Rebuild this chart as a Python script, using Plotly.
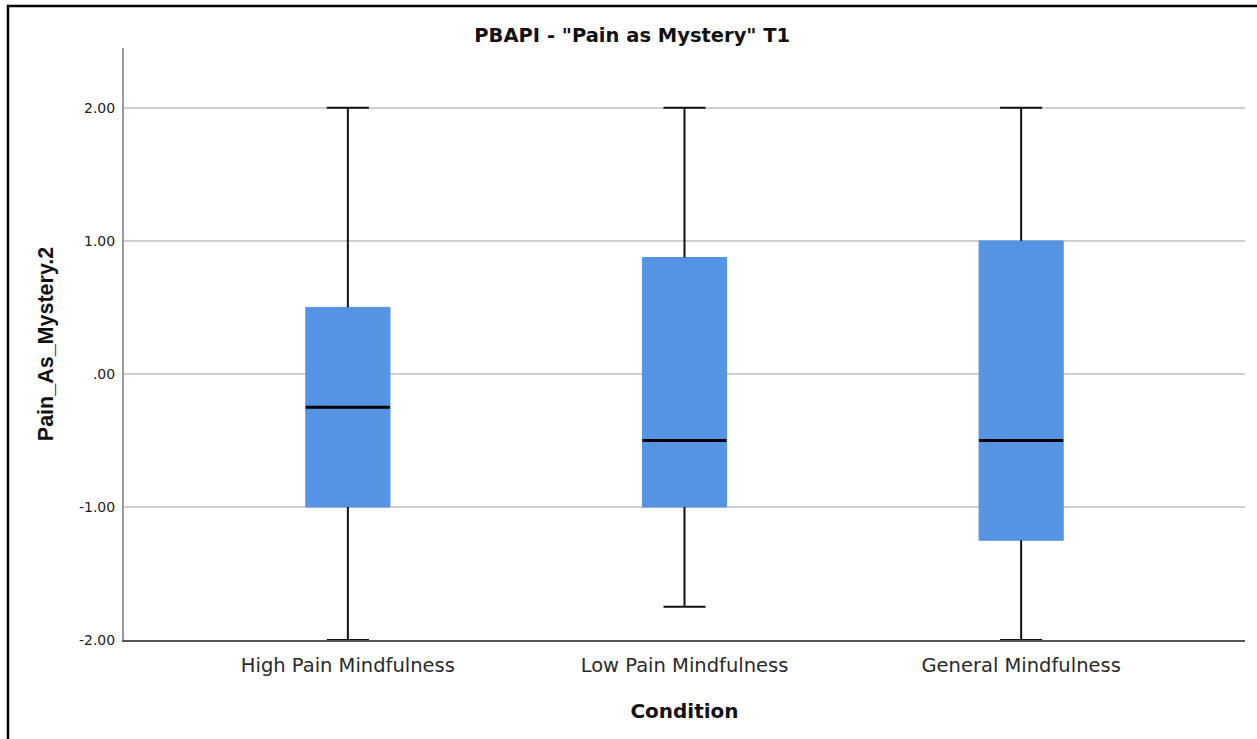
import plotly.graph_objects as go

# Five-number summaries per condition
conditions = ["High Pain Mindfulness", "Low Pain Mindfulness", "General Mindfulness"]
minimum = [-2.0, -1.75, -2.0]
q1 = [-1.0, -1.0, -1.25]
median = [-0.25, -0.5, -0.5]
q3 = [0.5, 0.875, 1.0]
maximum = [2.0, 2.0, 2.0]

ytick_vals = [-2, -1, 0, 1, 2]
ytick_text = ["-2.00", "-1.00", ".00", "1.00", "2.00"]

BOX_FILL = "#5594e3"
BOX_W = 0.25
CAP_W = 0.125
WIDE = "DejaVu Sans, Verdana, sans-serif"
NARROW = "Liberation Sans, Arial, sans-serif"

fig = go.Figure()

xs = list(range(len(conditions)))

# whiskers and caps (drawn underneath the boxes)
wx, wy = [], []
for i in xs:
    wx += [i, i, None, i, i, None]
    wy += [q3[i], maximum[i], None, minimum[i], q1[i], None]
    wx += [i - CAP_W / 2, i + CAP_W / 2, None, i - CAP_W / 2, i + CAP_W / 2, None]
    wy += [maximum[i], maximum[i], None, minimum[i], minimum[i], None]
fig.add_trace(go.Scatter(x=wx, y=wy, mode="lines",
                         line=dict(color="#111111", width=2),
                         hoverinfo="skip", showlegend=False))

# interquartile boxes
for i in xs:
    fig.add_trace(go.Box(
        x=[i], q1=[q1[i]], median=[median[i]], q3=[q3[i]],
        lowerfence=[q1[i]], upperfence=[q3[i]],
        width=BOX_W, fillcolor=BOX_FILL,
        line=dict(color=BOX_FILL, width=1),
        whiskerwidth=0, name=conditions[i], showlegend=False,
    ))

# medians
mx, my = [], []
for i in xs:
    mx += [i - BOX_W / 2, i + BOX_W / 2, None]
    my += [median[i], median[i], None]
fig.add_trace(go.Scatter(x=mx, y=my, mode="lines",
                         line=dict(color="#000000", width=3),
                         hoverinfo="skip", showlegend=False))

# outer frame of the figure panel
fig.add_shape(type="rect", xref="paper", yref="paper",
              x0=-0.1035, x1=1.05, y0=-0.25, y1=1.0709,
              line=dict(color="#000000", width=2.5), fillcolor="rgba(0,0,0,0)",
              layer="below")

fig.update_layout(
    width=1257, height=739,
    margin=dict(l=124, r=12, t=48, b=99),
    paper_bgcolor="white", plot_bgcolor="white",
    font=dict(family=WIDE, color="#222222"),
    title=dict(text='<b>PBAPI - "Pain as Mystery" T1</b>', x=0.503, xref="container",
               y=1 - 35 / 739, yref="container", yanchor="middle",
               font=dict(size=19.5, color="#111111", family=WIDE)),
    showlegend=False,
)

fig.update_xaxes(
    range=[-0.665, 2.665], tickvals=xs, ticktext=conditions,
    showgrid=False, zeroline=False,
    showline=True, linecolor="#555555", linewidth=1.5,
    ticks="", tickfont=dict(size=19.5, color="#2a2a2a", family=WIDE),
    ticklabelstandoff=7,
    title=dict(text="<b>Condition</b>", font=dict(size=20, color="#111111", family=WIDE),
               standoff=28),
)

fig.update_yaxes(
    range=[-2, 2.45], tickvals=ytick_vals, ticktext=ytick_text,
    showgrid=True, gridcolor="#cfcfcf", gridwidth=1.5, zeroline=False,
    showline=True, linecolor="#9a9a9a", linewidth=2,
    ticks="", tickfont=dict(size=14, color="#222222", family=WIDE),
    ticklabelstandoff=4,
    title=dict(text="<b>Pain_As_Mystery.2</b>", font=dict(size=21.5, color="#111111", family=NARROW),
               standoff=19),
)

fig.write_html("out.html")
